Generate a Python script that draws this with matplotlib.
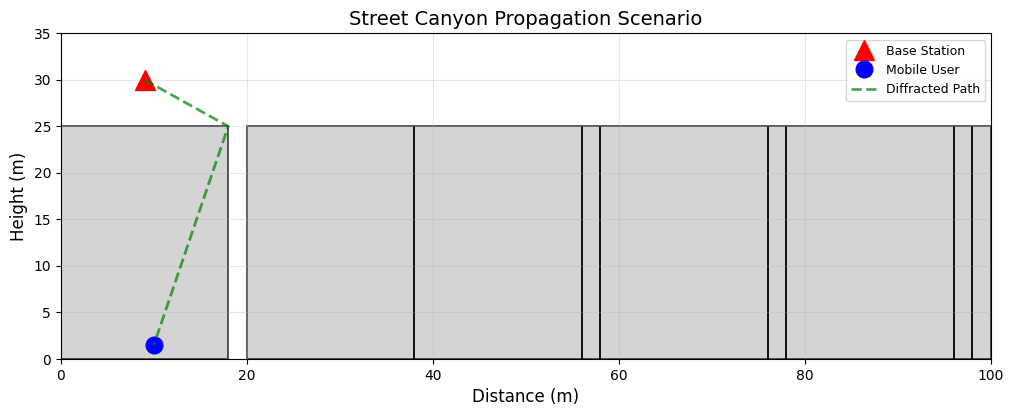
import matplotlib
matplotlib.use("Agg")
import matplotlib.pyplot as plt
from matplotlib.patches import Rectangle

# building blocks: left edge, width, height
BLOCK_X = [0, 20]
BLOCK_W = [18, 80]
BLOCK_H = [25, 25]
# party walls inside the long block
WALL_X = [38, 56, 58, 76, 78, 96, 98]
WALL_H = 25

BS_POS = [9, 30]
UE_POS = [10, 1.5]
PATH_X = [9, 18, 10]
PATH_Y = [30, 25, 1.5]

fig, ax = plt.subplots(figsize=(10.14, 4.16), dpi=100)

for x, w, h in zip(BLOCK_X, BLOCK_W, BLOCK_H):
    ax.add_patch(Rectangle((x, 0), w, h, facecolor="#d4d4d4", edgecolor="none"))
    ax.add_patch(Rectangle((x, 0), w, h, fill=False, edgecolor="black", lw=1.2,
                           alpha=0.75))
ax.vlines(WALL_X, 0, WALL_H, color="black", lw=1.3, zorder=1.2)

ax.plot(BS_POS[0], BS_POS[1], "r^", ms=15, label="Base Station")
ax.plot(UE_POS[0], UE_POS[1], "bo", ms=12, label="Mobile User")
ax.plot(PATH_X, PATH_Y, "g--", lw=2, alpha=0.7, label="Diffracted Path")

ax.set_xlim(0, 100)
ax.set_ylim(0, 35)
ax.set_xlabel("Distance (m)", fontsize=12)
ax.set_ylabel("Height (m)", fontsize=12)
ax.set_title("Street Canyon Propagation Scenario", fontsize=14)
ax.grid(True, alpha=0.3)
ax.legend(loc="upper right", fontsize=9, bbox_to_anchor=(1.0008, 1.0))

fig.subplots_adjust(left=0.06, right=0.9772, top=0.92, bottom=0.137)
fig.savefig("out.png", dpi=100)
